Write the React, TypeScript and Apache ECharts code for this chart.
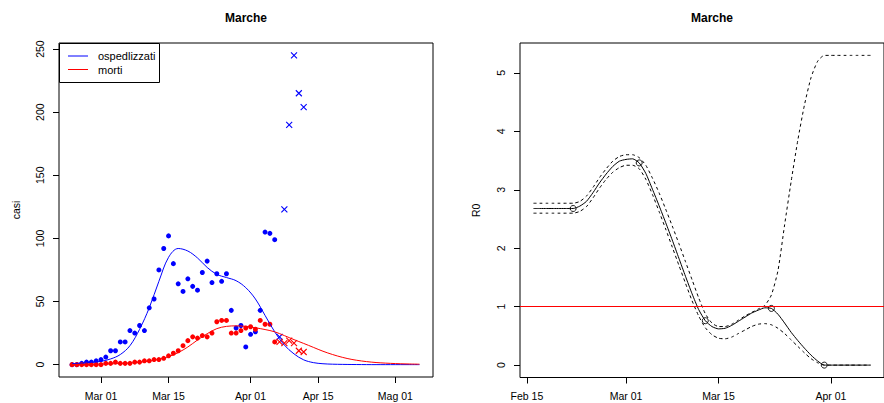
import React, { useEffect, useRef } from 'react';
import * as echarts from 'echarts';

const FONT = 'Liberation Sans, Arial, Helvetica, sans-serif';
const REF_DATE = '2020-03-01';
const dayOf = (iso: string) => Math.round((Date.parse(iso) - Date.parse(REF_DATE)) / 86400000);

// ---------- Left panel: casi ----------
const obsStart = '2020-02-24';
const ospedalizzati = [0, 0, 1, 2, 2, 3, 4, 6, 11, 11, 18, 18, 27, 25, 31, 27, 45, 52, 75, 92, 102, 80, 64, 58, 68, 62, 59, 73, 82, 65, 72, 66, 72, 43, 29, 31, 14, 24, 26, 43, 105, 104, 99];
const morti = [0, 0, 0, 0, 0, 0, 0, 1, 1, 2, 1, 1, 1, 2, 2, 3, 3, 4, 4, 5, 7, 9, 11, 15, 19, 22, 21, 23, 22, 25, 34, 35, 35, 25, 25, 27, 29, 30, 28, 35, 32, 32, 18];

const prevStart = '2020-04-07';
const ospedalizzatiPrev = [22, 123, 190, 245, 215, 204];
const mortiPrev = [18, 17, 19, 17, 11, 10];

const fitStart = '2020-02-24';
const fitStep = 2;
const ospedalizzatiFit = [0.8, 1.2, 1.8, 2.6, 4.5, 8, 15, 28, 45, 66, 85, 92, 90, 84.5, 77, 71.5, 69, 66.5, 61, 52, 39, 26, 15.5, 8.5, 3.8, 1.6, 0.7, 0.35, 0.2, 0.1, 0.05, 0, 0, 0, 0, 0, 0];
const mortiFit = [0.1, 0.15, 0.25, 0.4, 0.6, 0.9, 1.3, 1.9, 2.8, 4.2, 6.3, 9.5, 14, 19.5, 24.5, 28.5, 30.3, 30.7, 30.3, 29.2, 27.8, 26, 23, 19.8, 16.8, 13.7, 10.6, 8, 5.8, 4.1, 2.9, 2, 1.4, 1, 0.7, 0.5, 0.35];

const leftTickDates = ['2020-03-01', '2020-03-15', '2020-04-01', '2020-04-15', '2020-05-01'];
const leftTickLabels = ['Mar 01', 'Mar 15', 'Apr 01', 'Apr 15', 'Mag 01'];
const casiTicks = [0, 50, 100, 150, 200, 250];

// ---------- Right panel: R0 ----------
const r0Start = '2020-02-16';
const r0Stima = [2.68, 2.68, 2.68, 2.68, 2.68, 2.68,
  2.68, 2.72, 2.8, 2.95, 3.12, 3.27, 3.4, 3.49, 3.52, 3.53, 3.46, 3.28, 3.01, 2.73, 2.44, 2.14, 1.83, 1.52, 1.22, 0.95,
  0.76, 0.66, 0.62, 0.63, 0.68, 0.75, 0.82, 0.89, 0.94, 0.98, 0.97, 0.87, 0.72, 0.56, 0.42, 0.29, 0.17, 0.07, 0,
  0, 0, 0, 0, 0, 0, 0];
const r0Sup = [2.77, 2.77, 2.77, 2.77, 2.77, 2.77,
  2.77, 2.8, 2.89, 3.04, 3.21, 3.36, 3.49, 3.57, 3.6, 3.6, 3.55, 3.42, 3.2, 2.95, 2.67, 2.38, 2.08, 1.77, 1.46, 1.15,
  0.88, 0.72, 0.66, 0.66, 0.7, 0.77, 0.84, 0.9, 0.96, 1.02, 1.2, 1.62, 2.4, 3.15, 3.85, 4.45, 4.92, 5.2, 5.3,
  5.3, 5.3, 5.3, 5.3, 5.3, 5.3, 5.3];
const r0Inf = [2.6, 2.6, 2.6, 2.6, 2.6, 2.6,
  2.6, 2.63, 2.71, 2.86, 3.03, 3.18, 3.3, 3.38, 3.42, 3.42, 3.36, 3.18, 2.92, 2.63, 2.33, 2.02, 1.71, 1.4, 1.1, 0.84,
  0.64, 0.52, 0.46, 0.45, 0.48, 0.54, 0.6, 0.66, 0.7, 0.71, 0.69, 0.63, 0.54, 0.43, 0.32, 0.21, 0.11, 0.04, 0,
  0, 0, 0, 0, 0, 0, 0];
const nodiDates = ['2020-02-22', '2020-03-03', '2020-03-13', '2020-03-23', '2020-03-31'];
const nodiValues = [2.68, 3.46, 0.76, 0.97, 0];
const sogliaR0 = 1;

const rightTickDates = ['2020-02-15', '2020-03-01', '2020-03-15', '2020-04-01'];
const rightTickLabels = ['Feb 15', 'Mar 01', 'Mar 15', 'Apr 01'];
const r0Ticks = [0, 1, 2, 3, 4, 5];

const BLUE = '#0000ff';
const RED = '#ff0000';
const CROSS = 'path://M0,0L10,10M10,0L0,10';

const seq = (start: string, values: number[], step = 1) =>
  values.map((v, i) => [dayOf(start) + i * step, v]);

export default function App() {
  const ref = useRef<HTMLDivElement>(null);
  useEffect(() => {
    if (!ref.current) return;
    const chart = echarts.init(ref.current, undefined, { renderer: 'svg' });
    const leftTickDays = leftTickDates.map(dayOf);
    const rightTickDays = rightTickDates.map(dayOf);
    const labelStyle = { color: '#000', fontSize: 10.5, fontFamily: FONT };
    const tick = (vals: number[]) => ({ show: true, length: 6, customValues: vals, lineStyle: { color: '#000', width: 1 } });
    const noLine = { show: false, onZero: false };

    const option: any = {
      animation: false,
      backgroundColor: '#fff',
      title: [
        { text: 'Marche', left: 246, top: 12, textAlign: 'center', padding: 0, textStyle: { fontSize: 12, fontWeight: 'bold', fontFamily: FONT, color: '#000' } },
        { text: 'Marche', left: 712, top: 12, textAlign: 'center', padding: 0, textStyle: { fontSize: 12, fontWeight: 'bold', fontFamily: FONT, color: '#000' } },
      ],
      grid: [
        { left: 59, top: 43, width: 374, height: 334, show: true, borderColor: '#000', borderWidth: 1, backgroundColor: 'transparent', containLabel: false },
        { left: 520, top: 43, width: 380, height: 334.5, show: true, borderColor: '#000', borderWidth: 1, backgroundColor: 'transparent', containLabel: false },
      ],
      xAxis: [
        {
          type: 'value', gridIndex: 0, min: -8.7, max: 68.8,
          axisLine: noLine, splitLine: { show: false },
          axisTick: tick(leftTickDays),
          axisLabel: { ...labelStyle, customValues: leftTickDays, margin: 13, formatter: (v: number) => leftTickLabels[leftTickDays.indexOf(Math.round(v))] ?? '' },
        },
        {
          type: 'value', gridIndex: 1, min: -16.04, max: 39.04,
          axisLine: noLine, splitLine: { show: false },
          axisTick: tick(rightTickDays),
          axisLabel: { ...labelStyle, customValues: rightTickDays, margin: 13, formatter: (v: number) => rightTickLabels[rightTickDays.indexOf(Math.round(v))] ?? '' },
        },
      ],
      yAxis: [
        {
          type: 'value', gridIndex: 0, min: -9.8, max: 254.8,
          name: 'casi', nameLocation: 'middle', nameRotate: 90, nameGap: 38,
          nameTextStyle: { color: '#000', fontSize: 10.5, fontFamily: FONT },
          axisLine: noLine, splitLine: { show: false },
          axisTick: tick(casiTicks),
          axisLabel: { ...labelStyle, customValues: casiTicks, rotate: 90, margin: 14 },
        },
        {
          type: 'value', gridIndex: 1, min: -0.212, max: 5.512,
          name: 'R0', nameLocation: 'middle', nameRotate: 90, nameGap: 39,
          nameTextStyle: { color: '#000', fontSize: 10.5, fontFamily: FONT },
          axisLine: noLine, splitLine: { show: false },
          axisTick: tick(r0Ticks),
          axisLabel: { ...labelStyle, customValues: r0Ticks, rotate: 90, margin: 14 },
        },
      ],
      series: [
        { name: 'ospedlizzati', type: 'scatter', xAxisIndex: 0, yAxisIndex: 0, data: seq(obsStart, ospedalizzati), symbol: 'circle', symbolSize: 5, itemStyle: { color: BLUE, opacity: 1 }, silent: true },
        { name: 'morti', type: 'scatter', xAxisIndex: 0, yAxisIndex: 0, data: seq(obsStart, morti), symbol: 'circle', symbolSize: 5, itemStyle: { color: RED, opacity: 1 }, silent: true },
        { name: 'ospedlizzati fit', type: 'line', xAxisIndex: 0, yAxisIndex: 0, data: seq(fitStart, ospedalizzatiFit, fitStep), showSymbol: false, smooth: 0.35, lineStyle: { color: BLUE, width: 1 }, silent: true },
        { name: 'morti fit', type: 'line', xAxisIndex: 0, yAxisIndex: 0, data: seq(fitStart, mortiFit, fitStep), showSymbol: false, smooth: 0.35, lineStyle: { color: RED, width: 1 }, silent: true },
        { name: 'ospedlizzati prev', type: 'scatter', xAxisIndex: 0, yAxisIndex: 0, data: seq(prevStart, ospedalizzatiPrev), symbol: CROSS, symbolSize: 6, itemStyle: { color: BLUE, borderColor: BLUE, borderWidth: 1.1, opacity: 1 }, silent: true },
        { name: 'morti prev', type: 'scatter', xAxisIndex: 0, yAxisIndex: 0, data: seq(prevStart, mortiPrev), symbol: CROSS, symbolSize: 6, itemStyle: { color: RED, borderColor: RED, borderWidth: 1.1, opacity: 1 }, silent: true },

        { name: 'R0 sup', type: 'line', xAxisIndex: 1, yAxisIndex: 1, data: seq(r0Start, r0Sup), showSymbol: false, smooth: 0.2, lineStyle: { color: '#000', width: 1, type: [3, 3] }, silent: true },
        { name: 'R0 inf', type: 'line', xAxisIndex: 1, yAxisIndex: 1, data: seq(r0Start, r0Inf), showSymbol: false, smooth: 0.2, lineStyle: { color: '#000', width: 1, type: [3, 3] }, silent: true },
        {
          name: 'R0', type: 'line', xAxisIndex: 1, yAxisIndex: 1, data: seq(r0Start, r0Stima), showSymbol: false, smooth: 0.2,
          lineStyle: { color: '#000', width: 1 }, silent: true,
          markLine: { silent: true, symbol: 'none', label: { show: false }, lineStyle: { color: RED, type: 'solid', width: 1 }, data: [{ yAxis: sogliaR0 }] },
        },
        { name: 'nodi', type: 'scatter', xAxisIndex: 1, yAxisIndex: 1, data: nodiDates.map((d, i) => [dayOf(d), nodiValues[i]]), symbol: 'circle', symbolSize: 6, itemStyle: { color: 'none', borderColor: '#000', borderWidth: 0.9, opacity: 1 }, silent: true },
      ],
      graphic: [
        { type: 'rect', shape: { x: 59.5, y: 43.5, width: 100, height: 39 }, style: { fill: '#fff', stroke: '#000', lineWidth: 1 }, z: 100 },
        { type: 'line', shape: { x1: 68, y1: 56, x2: 88, y2: 56 }, style: { stroke: BLUE, lineWidth: 1 }, z: 101 },
        { type: 'line', shape: { x1: 68, y1: 69.5, x2: 88, y2: 69.5 }, style: { stroke: RED, lineWidth: 1 }, z: 101 },
        { type: 'text', x: 98, y: 56, style: { text: 'ospedlizzati', fontSize: 11, fontFamily: FONT, fill: '#000', verticalAlign: 'middle', align: 'left' }, z: 101 },
        { type: 'text', x: 98, y: 69.5, style: { text: 'morti', fontSize: 11, fontFamily: FONT, fill: '#000', verticalAlign: 'middle', align: 'left' }, z: 101 },
      ],
    };
    chart.setOption(option);
    return () => chart.dispose();
  }, []);
  return <div ref={ref} style={{ position: 'absolute', left: 0, top: 0, width: 884, height: 403 }} />;
}
